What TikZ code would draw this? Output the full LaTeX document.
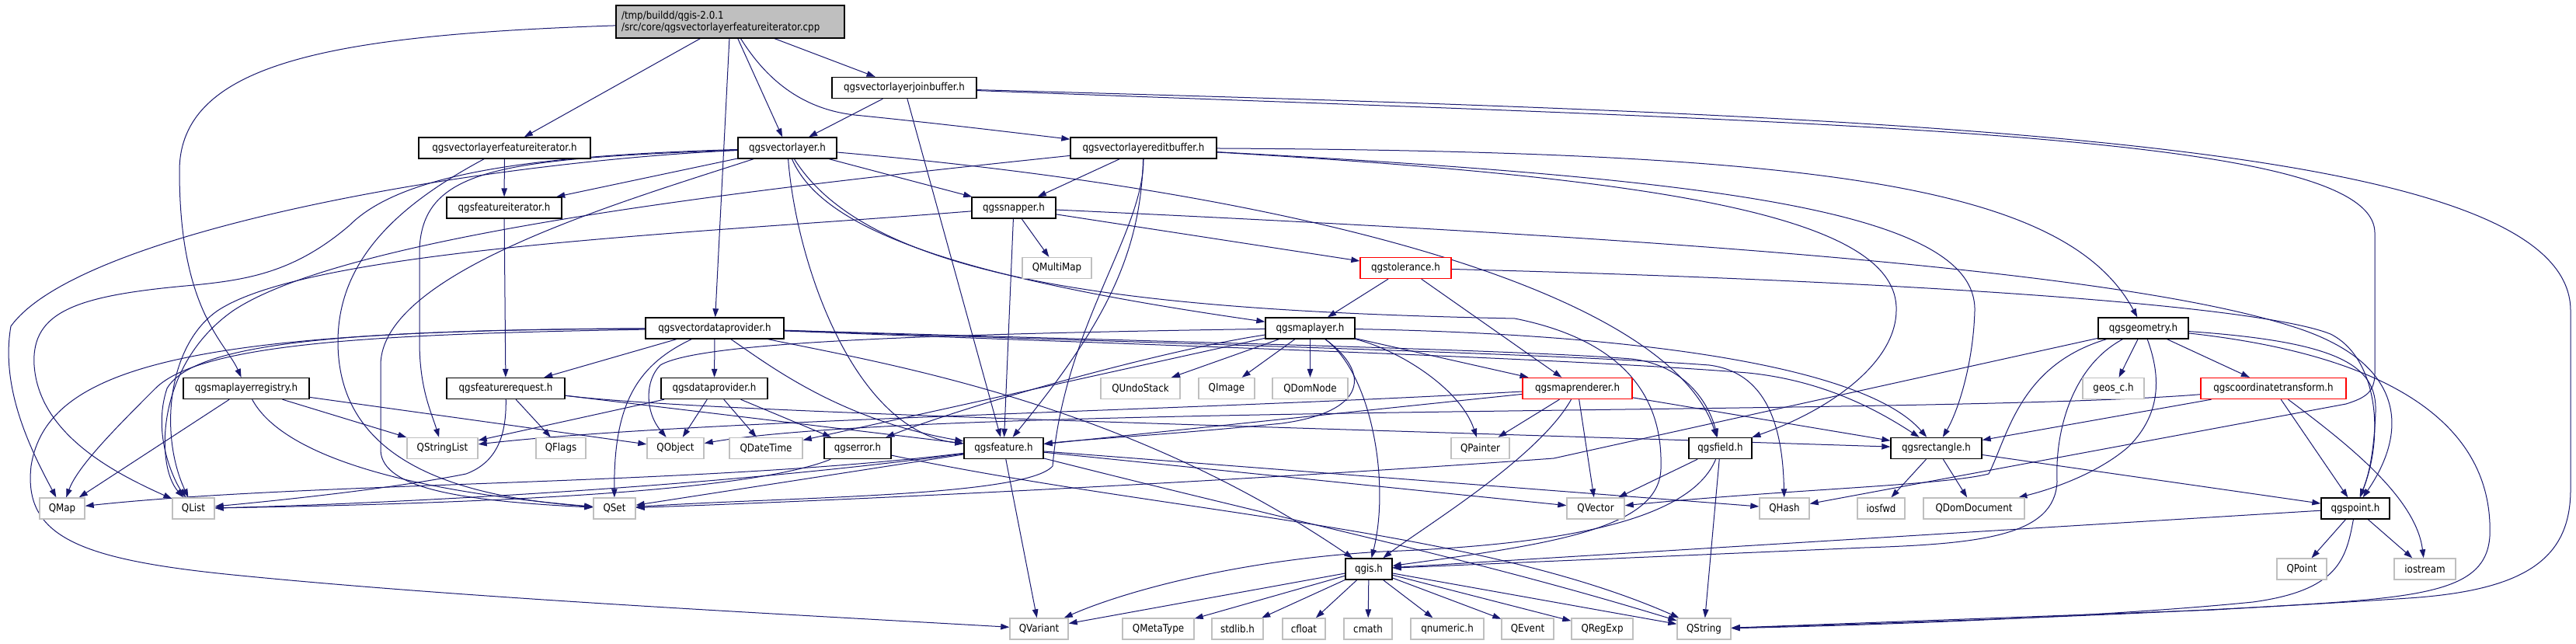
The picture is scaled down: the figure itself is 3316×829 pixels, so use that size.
\documentclass[tikz,border=0pt]{standalone}
\usepackage{fontspec}
\newfontfamily\nodefont{DejaVu Sans}[FakeStretch=0.88]
\usetikzlibrary{arrows.meta}
\definecolor{edgeblue}{HTML}{191970}
\definecolor{extgray}{HTML}{BFBFBF}
\definecolor{maingray}{HTML}{BFBFBF}
\pgfdeclarelayer{bg}
\pgfsetlayers{bg,main}
\tikzset{
  nd/.style={draw=black, line width=1.4pt, fill=white, minimum height=27pt, inner sep=0pt, font=\nodefont\fontsize{13.5}{15}\selectfont},
  ext/.style={nd, draw=extgray},
  trunc/.style={nd, draw=red},
  dep/.style={draw=edgeblue, line width=1pt, -{Triangle[length=11pt,width=7.5pt]}},
}
\begin{document}
\begin{tikzpicture}[x=1pt,y=-1pt]
\useasboundingbox (0,0) rectangle (3316,829);
% ---------- nodes ----------
\node[nd, fill=maingray, minimum height=42pt, text width=280pt, align=left, inner xsep=7pt] (main) at (940,28) {/tmp/buildd/qgis-2.0.1\\/src/core/qgsvectorlayerfeatureiterator.cpp};
\node[nd, minimum width=186pt] (joinbuf) at (1164,113) {qgsvectorlayerjoinbuffer.h};
\node[nd, minimum width=221pt] (vlfi) at (649.5,190.5) {qgsvectorlayerfeatureiterator.h};
\node[nd, minimum width=127pt] (vl) at (1013.5,190.5) {qgsvectorlayer.h};
\node[nd, minimum width=188pt] (editbuf) at (1472,190.5) {qgsvectorlayereditbuffer.h};
\node[nd, minimum width=148pt] (fi) at (649,267.5) {qgsfeatureiterator.h};
\node[nd, minimum width=108pt] (snapper) at (1305,267.5) {qgssnapper.h};
\node[ext, minimum width=89pt] (qmultimap) at (1360.5,345) {QMultiMap};
\node[trunc, minimum width=117pt] (tolerance) at (1809.5,345) {qgstolerance.h};
\node[nd, minimum width=178pt] (vdp) at (920,422.5) {qgsvectordataprovider.h};
\node[nd, minimum width=115pt] (maplayer) at (1686.5,422.5) {qgsmaplayer.h};
\node[nd, minimum width=116pt] (geometry) at (2759,422.5) {qgsgeometry.h};
\node[nd, minimum width=162pt] (mlreg) at (317,500) {qgsmaplayerregistry.h};
\node[nd, minimum width=152pt] (freq) at (651,500) {qgsfeaturerequest.h};
\node[nd, minimum width=137pt] (dp) at (919.5,500) {qgsdataprovider.h};
\node[ext, minimum width=102pt] (qundostack) at (1468,500) {QUndoStack};
\node[ext, minimum width=72pt] (qimage) at (1579,500) {QImage};
\node[ext, minimum width=97pt] (qdomnode) at (1686.5,500) {QDomNode};
\node[trunc, minimum width=141pt] (maprenderer) at (2030.5,500) {qgsmaprenderer.h};
\node[ext, minimum width=79pt] (geosc) at (2720.5,500) {geos\_c.h};
\node[trunc, minimum width=187pt] (coordtrans) at (2926.5,500) {qgscoordinatetransform.h};
\node[ext, minimum width=91pt] (qstringlist) at (569.5,577) {QStringList};
\node[ext, minimum width=64pt] (qflags) at (722,577) {QFlags};
\node[ext, minimum width=73pt] (qobject) at (869.5,577) {QObject};
\node[ext, minimum width=94pt] (qdatetime) at (986,577) {QDateTime};
\node[nd, minimum width=86pt] (qgserror) at (1104,577) {qgserror.h};
\node[nd, minimum width=102pt] (feature) at (1292,577) {qgsfeature.h};
\node[ext, minimum width=75pt] (qpainter) at (1905.5,577) {QPainter};
\node[nd, minimum width=81pt] (field) at (2214.5,577) {qgsfield.h};
\node[nd, minimum width=117pt] (rectangle) at (2492.5,577) {qgsrectangle.h};
\node[ext, minimum width=58pt] (qmap) at (80,654.5) {QMap};
\node[ext, minimum width=54pt] (qlist) at (249,654.5) {QList};
\node[ext, minimum width=54pt] (qset) at (791,654.5) {QSet};
\node[ext, minimum width=74pt] (qvector) at (2054,654.5) {QVector};
\node[ext, minimum width=64pt] (qhash) at (2297,654.5) {QHash};
\node[ext, minimum width=61pt] (iosfwd) at (2421.5,654.5) {iosfwd};
\node[ext, minimum width=130pt] (qdomdocument) at (2541,654.5) {QDomDocument};
\node[nd, minimum width=88pt] (point) at (3032,654.5) {qgspoint.h};
\node[nd, minimum width=60pt] (qgis) at (1762,732.5) {qgis.h};
\node[ext, minimum width=64pt] (qpoint) at (2963,732.5) {QPoint};
\node[ext, minimum width=79pt] (iostream) at (3121.5,732.5) {iostream};
\node[ext, minimum width=75pt] (qvariant) at (1337.5,809.5) {QVariant};
\node[ext, minimum width=92pt] (qmetatype) at (1491,809.5) {QMetaType};
\node[ext, minimum width=66pt] (stdlib) at (1593,809.5) {stdlib.h};
\node[ext, minimum width=55pt] (cfloat) at (1678.5,809.5) {cfloat};
\node[ext, minimum width=62pt] (cmath) at (1761,809.5) {cmath};
\node[ext, minimum width=94pt] (qnumeric) at (1863,809.5) {qnumeric.h};
\node[ext, minimum width=67pt] (qevent) at (1966.5,809.5) {QEvent};
\node[ext, minimum width=79pt] (qregexp) at (2062.5,809.5) {QRegExp};
\node[ext, minimum width=69pt] (qstring) at (2193.5,809.5) {QString};
% ---------- edges ----------
\begin{pgfonlayer}{bg}
\fill[white] (0,0) rectangle (3316,829);
% main
\draw[dep] (main) -- (vlfi);
\draw[dep] (main) -- (vl);
\draw[dep] (main) -- (joinbuf);
\draw[dep] (main) .. controls (985,100) and (1030,140) .. (1100,148) .. controls (1200,158) and (1300,170) .. (editbuf);
\draw[dep] (main) -- (vdp);
\draw[dep] (main) .. controls (430,45) and (231,80) .. (231,220) .. controls (231,400) and (290,440) .. (mlreg);
% joinbuffer
\draw[dep] (joinbuf) -- (vl);
\draw[dep] (joinbuf) -- (feature);
\draw[dep] (joinbuf) .. controls (2500,150) and (3309,180) .. (3309,400) -- (3309,630) .. controls (3309,720) and (3250,760) .. (3100,770) .. controls (2800,790) and (2500,800) .. (qstring);
\draw[dep] (joinbuf) .. controls (2400,160) and (3057,170) .. (3057,300) -- (3057,480) .. controls (3057,505) and (3045,512) .. (3020,520) -- (qhash);
% vectorlayerfeatureiterator
\draw[dep] (vlfi) -- (fi);
\draw[dep] (vlfi) .. controls (520,260) and (435,330) .. (435,440) .. controls (435,600) and (600,640) .. (qset);
% vectorlayer
\draw[dep] (vl) -- (fi);
\draw[dep] (vl) -- (snapper);
\draw[dep] (vl) .. controls (1060,300) and (1250,360) .. (maplayer);
\draw[dep] (vl) .. controls (1700,250) and (2150,380) .. (field);
\draw[dep] (vl) .. controls (1120,360) and (1450,400) .. (1950,410) .. controls (2100,440) and (2140,520) .. (2138,600) .. controls (2140,680) and (2000,700) .. (qgis);
\draw[dep] (vl) .. controls (600,210) and (100,300) .. (14,420) .. controls (0,500) and (40,580) .. (qmap);
\draw[dep] (vl) .. controls (700,200) and (520,220) .. (450,290) .. controls (380,350) and (320,360) .. (250,367) .. controls (100,380) and (40,400) .. (44,470) .. controls (50,560) and (150,610) .. (qlist);
\draw[dep] (vl) .. controls (650,205) and (545,215) .. (540,320) -- (540,440) .. controls (540,500) and (555,530) .. (qstringlist);
\draw[dep] (vl) .. controls (800,260) and (490,350) .. (490,470) -- (490,580) .. controls (492,630) and (600,645) .. (qset);
\draw[dep] (vl) .. controls (1025,340) and (1100,555) .. (feature);
% editbuffer
\draw[dep] (editbuf) -- (snapper);
\draw[dep] (editbuf) .. controls (1468,330) and (1420,420) .. (feature);
\draw[dep] (editbuf) .. controls (1472,300) and (1370,420) .. (1355,600) .. controls (1320,640) and (1000,640) .. (qset);
\draw[dep] (editbuf) .. controls (1000,240) and (450,300) .. (300,400) .. controls (200,470) and (200,600) .. (qlist);
\draw[dep] (editbuf) .. controls (2350,195) and (2660,240) .. (geometry);
\draw[dep] (editbuf) .. controls (2200,230) and (2545,270) .. (2542,400) .. controls (2540,470) and (2520,530) .. (rectangle);
\draw[dep] (editbuf) .. controls (2150,230) and (2445,280) .. (2441,400) .. controls (2440,470) and (2350,530) .. (field);
% featureiterator
\draw[dep] (fi) -- (freq);
% snapper
\draw[dep] (snapper) -- (qmultimap);
\draw[dep] (snapper) -- (tolerance);
\draw[dep] (snapper) -- (feature);
\draw[dep] (snapper) .. controls (900,300) and (400,320) .. (280,400) .. controls (215,445) and (205,560) .. (qlist);
\draw[dep] (snapper) .. controls (2000,300) and (2700,340) .. (2950,420) .. controls (3080,460) and (3110,540) .. (point);
% tolerance
\draw[dep] (tolerance) -- (maplayer);
\draw[dep] (tolerance) -- (maprenderer);
\draw[dep] (tolerance) .. controls (2400,360) and (2900,390) .. (3000,430) .. controls (3060,460) and (3070,560) .. (point);
% vectordataprovider
\draw[dep] (vdp) -- (freq);
\draw[dep] (vdp) .. controls (820,470) and (790,520) .. (qset);
\draw[dep] (vdp) -- (dp);
\draw[dep] (vdp) .. controls (990,470) and (1080,540) .. (feature);
\draw[dep] (vdp) .. controls (1150,470) and (1450,520) .. (qgis);
\draw[dep] (vdp) .. controls (500,430) and (260,440) .. (200,500) .. controls (150,550) and (100,600) .. (qmap);
\draw[dep] (vdp) .. controls (450,425) and (250,440) .. (215,500) .. controls (195,560) and (225,620) .. (qlist);
\draw[dep] (vdp) .. controls (250,425) and (60,470) .. (40,600) .. controls (30,690) and (100,720) .. (300,740) .. controls (600,770) and (1000,790) .. (qvariant);
\draw[dep] (vdp) .. controls (1500,440) and (1950,450) .. (2100,462) .. controls (2170,470) and (2200,520) .. (field);
\draw[dep] (vdp) .. controls (1500,445) and (2000,460) .. (2250,480) .. controls (2350,490) and (2420,530) .. (rectangle);
\draw[dep] (vdp) .. controls (1500,442) and (2000,455) .. (2200,470) .. controls (2280,480) and (2295,560) .. (qhash);
% dataprovider
\draw[dep] (dp) -- (qstringlist);
\draw[dep] (dp) -- (qobject);
\draw[dep] (dp) -- (qdatetime);
\draw[dep] (dp) -- (qgserror);
% featurerequest
\draw[dep] (freq) -- (qflags);
\draw[dep] (freq) .. controls (652,560) and (640,595) .. (600,610) .. controls (500,630) and (350,645) .. (qlist);
\draw[dep] (freq) .. controls (900,530) and (1500,545) .. (rectangle);
\draw[dep] (freq) -- (feature);
% maplayerregistry
\draw[dep] (mlreg) -- (qmap);
\draw[dep] (mlreg) -- (qstringlist);
\draw[dep] (mlreg) -- (qobject);
\draw[dep] (mlreg) .. controls (360,580) and (500,630) .. (qset);
% qgserror
\draw[dep] (qgserror) .. controls (950,640) and (500,650) .. (qlist);
\draw[dep] (qgserror) .. controls (1500,660) and (1900,680) .. (qstring);
% feature
\draw[dep] (feature) .. controls (900,625) and (400,620) .. (qmap);
\draw[dep] (feature) .. controls (900,630) and (450,650) .. (qlist);
\draw[dep] (feature) -- (qset);
\draw[dep] (feature) -- (qvariant);
\draw[dep] (feature) -- (qvector);
\draw[dep] (feature) -- (qhash);
\draw[dep] (feature) .. controls (1700,680) and (1900,720) .. (qstring);
% maplayer
\draw[dep] (maplayer) -- (qundostack);
\draw[dep] (maplayer) -- (qimage);
\draw[dep] (maplayer) -- (qdomnode);
\draw[dep] (maplayer) -- (maprenderer);
\draw[dep] (maplayer) .. controls (1800,450) and (1880,500) .. (qpainter);
\draw[dep] (maplayer) .. controls (1765,480) and (1790,620) .. (qgis);
\draw[dep] (maplayer) .. controls (1765,480) and (1760,530) .. (1650,545) .. controls (1500,560) and (1400,565) .. (feature);
\draw[dep] (maplayer) .. controls (1500,450) and (1250,520) .. (qgserror);
\draw[dep] (maplayer) -- (qdatetime);
\draw[dep] (maplayer) .. controls (1200,430) and (900,440) .. (850,470) .. controls (830,490) and (830,530) .. (qobject);
\draw[dep] (maplayer) .. controls (2100,430) and (2400,470) .. (rectangle);
% maprenderer
\draw[dep] (maprenderer) -- (qpainter);
\draw[dep] (maprenderer) .. controls (1980,590) and (1830,680) .. (qgis);
\draw[dep] (maprenderer) -- (qvector);
\draw[dep] (maprenderer) -- (rectangle);
\draw[dep] (maprenderer) -- (feature);
\draw[dep] (maprenderer) .. controls (1500,530) and (900,540) .. (qstringlist);
% geometry
\draw[dep] (geometry) -- (geosc);
\draw[dep] (geometry) -- (coordtrans);
\draw[dep] (geometry) .. controls (3010,440) and (3060,470) .. (3058,530) .. controls (3056,580) and (3050,610) .. (point);
\draw[dep] (geometry) .. controls (3100,460) and (3210,560) .. (3205,690) .. controls (3200,770) and (3100,770) .. (2850,785) -- (qstring);
\draw[dep] (geometry) -- (2000,590) .. controls (1700,612) and (1200,640) .. (qset);
\draw[dep] (geometry) .. controls (2600,470) and (2585,560) .. (2560,610) .. controls (2500,625) and (2300,630) .. (qvector);
\draw[dep] (geometry) .. controls (2670,470) and (2645,550) .. (2648,620) .. controls (2645,690) and (2550,700) .. (2400,705) -- (qgis);
\draw[dep] (geometry) .. controls (2780,480) and (2785,530) .. (2740,575) .. controls (2700,610) and (2640,630) .. (qdomdocument);
% coordinatetransform
\draw[dep] (coordtrans) -- (rectangle);
\draw[dep] (coordtrans) -- (point);
\draw[dep] (coordtrans) .. controls (3020,570) and (3110,640) .. (iostream);
\draw[dep] (coordtrans) .. controls (2500,535) and (1200,520) .. (qobject);
% rectangle
\draw[dep] (rectangle) -- (iosfwd);
\draw[dep] (rectangle) -- (qdomdocument);
\draw[dep] (rectangle) -- (point);
% field
\draw[dep] (field) -- (qvector);
\draw[dep] (field) -- (qstring);
\draw[dep] (field) .. controls (2180,660) and (2050,700) .. (1780,710) .. controls (1600,720) and (1450,760) .. (qvariant);
% point
\draw[dep] (point) -- (qgis);
\draw[dep] (point) -- (qpoint);
\draw[dep] (point) -- (iostream);
\draw[dep] (point) .. controls (3020,720) and (3010,760) .. (2900,775) .. controls (2700,795) and (2400,805) .. (qstring);
% qgis
\foreach \tgt in {qvariant,qmetatype,stdlib,cfloat,cmath,qnumeric,qevent,qregexp,qstring}
  \draw[dep] (qgis) -- (\tgt);
\end{pgfonlayer}
\end{tikzpicture}
\end{document}
